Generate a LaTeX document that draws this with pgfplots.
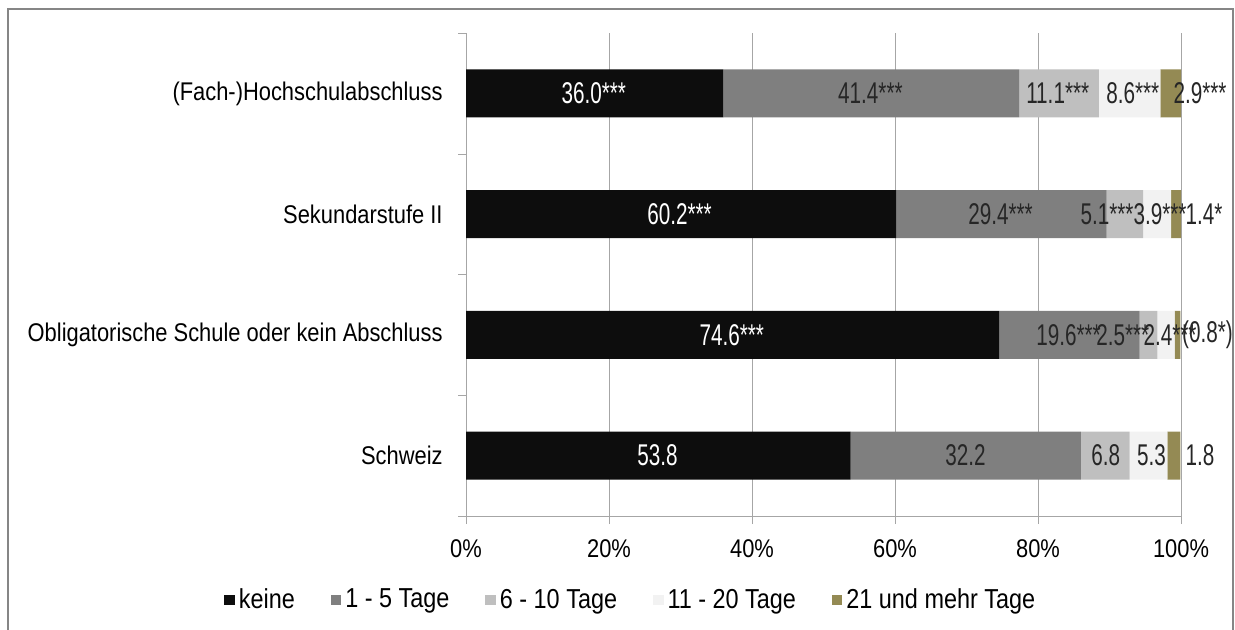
\documentclass[border=0pt]{standalone}
\usepackage{fontspec}
\setmainfont{Liberation Sans}[FakeStretch=0.855]
\newfontfamily\labfont{Liberation Sans}[FakeStretch=0.69]
\usepackage{pgfplots}
\pgfplotsset{compat=1.18}

\definecolor{c1}{HTML}{0D0D0D}
\definecolor{c2}{HTML}{7F7F7F}
\definecolor{c3}{HTML}{BFBFBF}
\definecolor{c4}{HTML}{F2F2F2}
\definecolor{c5}{HTML}{948A54}
\definecolor{framec}{HTML}{868686}
\definecolor{gridc}{HTML}{A6A6A6}
\definecolor{txt}{HTML}{262626}

\begin{document}
\begin{tikzpicture}
\useasboundingbox (0,0) rectangle (617.5pt,-315pt);
\draw[framec, line width=1pt] (4pt,-330pt) -- (4pt,-4.5pt) -- (616.5pt,-4.5pt) -- (616.5pt,-330pt);
\begin{axis}[
  at={(233pt,-258pt)}, anchor=south west,
  width=357.5pt, height=241.5pt, scale only axis,
  xbar stacked, bar width=24pt,
  xmin=0, xmax=100, ymin=-0.5, ymax=3.5,
  axis x line=bottom, axis y line=left,
  axis line style={-, gridc},
  xmajorgrids, major grid style={gridc},
  tick align=outside, major tick length=4pt,
  tick style={gridc},
  xtick={0,20,...,100},
  xticklabel={\pgfmathprintnumber{\tick}\%},
  /pgf/number format/assume math mode=true,
  ytick={-0.5,0.5,1.5,2.5,3.5},
  yticklabels={,,,,},
  extra y ticks={0,1,2,3},
  extra y tick labels={Schweiz,Obligatorische Schule oder kein Abschluss,Sekundarstufe II\hspace{4pt},(Fach-)Hochschulabschluss},
  extra y tick style={tick style={draw=none}, grid=none},
  ticklabel style={font=\fontsize{12.8}{14}\selectfont, text=black},
  yticklabel style={anchor=east, inner sep=0pt, xshift=-7.5pt},
  xticklabel style={anchor=base, inner sep=0pt, yshift=-16.5pt},
  legend columns=5,
  legend style={draw=none, fill=none, at={(0.232,-0.174)}, anchor=center,
    font=\fontsize{13.7}{15}\selectfont,
    /tikz/every even column/.append style={column sep=16pt}},
  legend image code/.code={\path[#1, draw=none] (0pt,-2.6pt) rectangle (5.2pt,2.6pt);},
]
\addplot[fill=c1, draw=none] coordinates {(53.8,0) (74.6,1) (60.2,2) (36.0,3)};
\addplot[fill=c2, draw=none] coordinates {(32.2,0) (19.6,1) (29.4,2) (41.4,3)};
\addplot[fill=c3, draw=none] coordinates {(6.8,0) (2.5,1) (5.1,2) (11.1,3)};
\addplot[fill=c4, draw=none] coordinates {(5.3,0) (2.4,1) (3.9,2) (8.6,3)};
\addplot[fill=c5, draw=none] coordinates {(1.8,0) (0.8,1) (1.4,2) (2.9,3)};
\legend{keine, 1 - 5 Tage, 6 - 10 Tage, 11 - 20 Tage, 21 und mehr Tage}

% label anchors (left edge of each data label)
\coordinate (a1) at (axis cs:13.3,3);
\coordinate (a2) at (axis cs:52.0,3);
\coordinate (a3) at (axis cs:78.3,3);
\coordinate (a4) at (axis cs:89.5,3);
\coordinate (a5) at (axis cs:98.9,3);
\coordinate (b1) at (axis cs:25.3,2);
\coordinate (b2) at (axis cs:70.2,2);
\coordinate (b3) at (axis cs:85.9,2);
\coordinate (b4) at (axis cs:93.3,2);
\coordinate (b5) at (axis cs:100.6,2);
\coordinate (c1) at (axis cs:32.6,1);
\coordinate (c2) at (axis cs:79.7,1);
\coordinate (c3) at (axis cs:88.1,1);
\coordinate (c4) at (axis cs:94.7,1);
\coordinate (c5) at (axis cs:100.1,1);
\coordinate (d1) at (axis cs:23.9,0);
\coordinate (d2) at (axis cs:67.0,0);
\coordinate (d3) at (axis cs:87.4,0);
\coordinate (d4) at (axis cs:93.8,0);
\coordinate (d5) at (axis cs:100.6,0);
\end{axis}

\tikzset{lab/.style={anchor=west, inner sep=0pt, text=txt, font=\labfont\fontsize{15}{16}\selectfont}}
% (Fach-)Hochschulabschluss
\node[lab, text=white] at (a1) {36.0***};
\node[lab] at (a2) {41.4***};
\node[lab] at (a3) {11.1***};
\node[lab] at (a4) {8.6***};
\node[lab] at (a5) {2.9***};
% Sekundarstufe II
\node[lab, text=white] at (b1) {60.2***};
\node[lab] at (b2) {29.4***};
\node[lab] at (b3) {5.1***};
\node[lab] at (b4) {3.9***};
\node[lab] at (b5) {1.4*};
% Obligatorische Schule
\node[lab, text=white] at (c1) {74.6***};
\node[lab] at (c2) {19.6***};
\node[lab] at (c3) {2.5***};
\node[lab] at (c4) {2.4***};
\node[lab] at (c5) {(0.8*)};
% Schweiz
\node[lab, text=white] at (d1) {53.8};
\node[lab] at (d2) {32.2};
\node[lab] at (d3) {6.8};
\node[lab] at (d4) {5.3};
\node[lab] at (d5) {1.8};
\end{tikzpicture}
\end{document}
